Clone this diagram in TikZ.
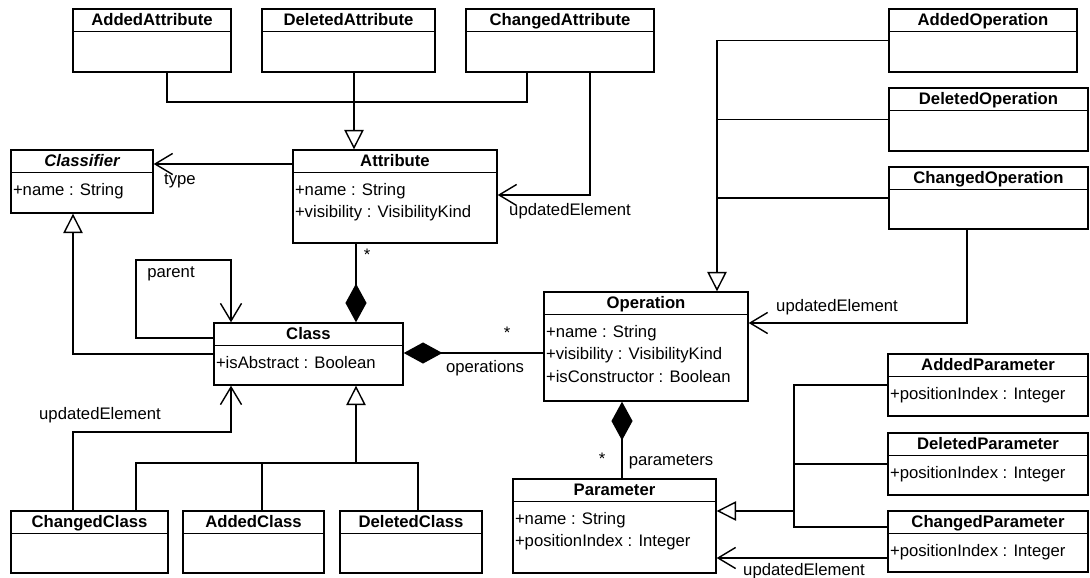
\documentclass[tikz,border=0pt]{standalone}
\usepackage{fontspec}
\setmainfont{Liberation Sans}
\usetikzlibrary{arrows.meta, calc, fit, positioning}

\newcommand{\classbox}[7]{%
  \node[box, fit={(#2,#3) (#4,#5)}] (#1) {};
  \draw ($(#1.north west)+(0,23)$) -- ($(#1.north east)+(0,23)$);
  \node[title] (#1_t) at ($(#1.north)+(0,17)$) {#6};
  \node[members] (#1_m) at ($(#1.north west)+(2,33)$) {#7};
}

\begin{document}
\begin{tikzpicture}[x=0.02cm,y=-0.02cm,line width=0.8pt,
  font=\fontsize{9.5}{13}\selectfont]
\tikzstyle{box}=[draw,inner sep=0pt]
\tikzstyle{title}=[font=\fontsize{9.5}{13}\selectfont\bfseries,inner sep=0pt,anchor=base]
\tikzstyle{members}=[anchor=north west,align=left,inner sep=0pt]
\tikzstyle{lbl}=[inner sep=0pt]
\tikzstyle{gen}=[-{Triangle[open,length=11pt,width=11pt]}]
\tikzstyle{nav}=[-{Straight Barb[length=10pt,width=12pt]}]
\tikzstyle{comp}=[{Diamond[length=22pt,width=12pt]}-]

\useasboundingbox (0,0) rectangle (1090,578);

% attributes
\classbox{addattr}{73}{9}{231}{72}{AddedAttribute}{}
\classbox{delattr}{262}{9}{435}{72}{DeletedAttribute}{}
\classbox{chgattr}{466}{9}{654}{72}{ChangedAttribute}{}
\classbox{attr}{293}{150}{497}{243}{Attribute}{+name : String\\+visibility : VisibilityKind}
\classbox{classifier}{11}{150}{153}{213}{\itshape Classifier}{+name : String}

% classes
\classbox{class}{214}{323}{403}{385}{Class}{+isAbstract : Boolean}
\classbox{chgclass}{11}{511}{168}{573}{ChangedClass}{}
\classbox{addclass}{183}{511}{324}{573}{AddedClass}{}
\classbox{delclass}{340}{511}{482}{573}{DeletedClass}{}

% operations
\classbox{oper}{544}{292}{748}{401}{Operation}{+name : String\\+visibility : VisibilityKind\\+isConstructor : Boolean}
\classbox{addop}{889}{9}{1077}{72}{AddedOperation}{}
\classbox{delop}{889}{88}{1088}{151}{DeletedOperation}{}
\classbox{chgop}{889}{167}{1088}{229}{ChangedOperation}{}

% parameters
\classbox{param}{513}{479}{716}{573}{Parameter}{+name : String\\+positionIndex : Integer}
\classbox{addparam}{888}{354}{1088}{416}{AddedParameter}{+positionIndex : Integer}
\classbox{delparam}{888}{433}{1088}{495}{DeletedParameter}{+positionIndex : Integer}
\classbox{chgparam}{888}{511}{1088}{572}{ChangedParameter}{+positionIndex : Integer}

\coordinate (ga1) at (167,102);
\coordinate (ga2) at (527,102);
\coordinate (ga) at (354,102);
\coordinate (ua) at (590,195);
\coordinate (ty) at (223,164);
\coordinate (gc) at (73,354);
\coordinate (pl) at (136,260);
\coordinate (p1) at (0,338);
\coordinate (p2) at (231,0);
\coordinate (ca) at (356,0);
\coordinate (co) at (470,353);
\coordinate (gk1) at (136,463);
\coordinate (gk2) at (262,463);
\coordinate (gk3) at (418,463);
\coordinate (gk) at (356,463);
\coordinate (uc1) at (73,432);
\coordinate (uc2) at (231,432);
\coordinate (go) at (717,0);
\coordinate (uo) at (967,323);
\coordinate (cp) at (622,0);
\coordinate (gp) at (794,511);
\coordinate (gp3) at (794,527);
\coordinate (up) at (0,558);

\draw (addattr.south -| ga1) |- (ga2) -- (chgattr.south -| ga2);
\draw[gen] (delattr.south -| ga) -- (attr.north -| ga);
\draw[nav] (chgattr.south -| ua) |- (attr.east |- ua);
\draw[nav] (attr.west |- ty) -- (classifier.east |- ty);
\draw[gen] (class.west |- gc) -| (classifier.south -| gc);
\draw[nav] (class.west |- p1) -| (pl) -| (class.north -| p2);
\draw[comp] (class.north -| ca) -- (attr.south -| ca);
\draw[comp] (class.east |- co) -- (oper.west |- co);

\draw (chgclass.north -| gk1) |- (gk3) -- (delclass.north -| gk3);
\draw (addclass.north -| gk2) -- (gk2);
\draw[gen] (gk) -- (class.south -| gk);
\draw[nav] (chgclass.north -| uc1) |- (uc2) -- (class.south -| uc2);

\draw[gen] (addop.west) -| (oper.north -| go);
\draw (delop.west) -- (delop.west -| go);
\draw (chgop.west) -- (chgop.west -| go);
\draw[nav] (chgop.south -| uo) |- (oper.east |- uo);
\draw[comp] (oper.south -| cp) -- (param.north -| cp);

\draw (addparam.west) -| (gp3) -- (chgparam.west |- gp3);
\draw (delparam.west) -- (delparam.west -| gp3);
\draw[gen] (gp) -- (param.east |- gp);
\draw[nav] (chgparam.west |- up) -- (param.east |- up);

\node[lbl] (l_type) at (180,181) {type};
\node[lbl] (l_ua) at (570,211) {updatedElement};
\node[lbl] (l_parent) at (171,274) {parent};
\node[lbl] (m_attr) at (367,255) {*};
\node[lbl] (m_oper) at (507,333) {*};
\node[lbl] (l_ops) at (485,368) {operations};
\node[lbl] (l_uc) at (100,415) {updatedElement};
\node[lbl] (l_uo) at (837,307) {updatedElement};
\node[lbl] (m_param) at (602,459) {*};
\node[lbl] (l_params) at (671,462) {parameters};
\node[lbl] (l_up) at (804,571) {updatedElement};
\end{tikzpicture}
\end{document}
